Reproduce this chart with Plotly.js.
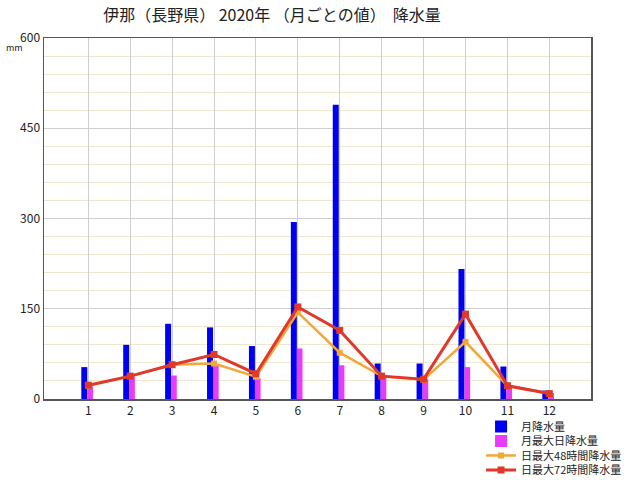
<!DOCTYPE html>
<html>
<head>
<meta charset="utf-8">
<script src="https://cdn.plot.ly/plotly-3.0.1.min.js"></script>
<style>html,body{margin:0;padding:0;background:#fff;}#chart{width:640px;height:484px;}</style>
</head>
<body>
<div id="chart"></div>
<script>
// Data
const months = [1, 2, 3, 4, 5, 6, 7, 8, 9, 10, 11, 12];
const monthLabels = ['1','2','3','4','5','6','7','8','9','10','11','12'];
const monthlyPrecip = [53, 90, 125, 119, 88, 294, 489, 59, 59, 216, 54, 14];   // 月降水量
const maxDailyPrecip = [21, 37, 39, 57, 34, 84, 56, 37, 33, 53, 20, 10];        // 月最大日降水量
const max48hPrecip = [22, 38, 57, 59, 37, 144, 77, 38, 32, 95, 22, 9];          // 日最大48時間降水量
const max72hPrecip = [23, 38, 57, 74, 42, 153, 114, 38, 33, 141, 22, 9];        // 日最大72時間降水量
const yTicks = [0, 150, 300, 450, 600];

const FONT = '"Noto Sans CJK JP", "Noto Sans", sans-serif';
const LEGEND_FONT = {family: FONT, size: 11, color: '#222'};

const traces = [
  {
    type: 'bar', name: '月降水量', x: months, y: monthlyPrecip,
    width: 0.143, offset: -0.167, legend: 'legend',
    marker: {color: '#0000f0', line: {width: 0}}
  },
  {
    type: 'bar', name: '月最大日降水量', x: months, y: maxDailyPrecip,
    width: 0.135, offset: -0.024, legend: 'legend2',
    marker: {color: '#e83cf6', line: {width: 0}}
  },
  {
    type: 'scatter', mode: 'lines+markers', name: '日最大48時間降水量',
    x: months, y: max48hPrecip, legend: 'legend3',
    line: {color: '#f0a838', width: 2.5},
    marker: {symbol: 'square', size: 6, color: '#f0a838'}
  },
  {
    type: 'scatter', mode: 'lines+markers', name: '日最大72時間降水量',
    x: months, y: max72hPrecip, legend: 'legend4',
    line: {color: '#e0392b', width: 3},
    marker: {symbol: 'square', size: 7, color: '#e0392b'}
  }
];

function legendAt(y) {
  return {
    x: 0.799, xanchor: 'left', y: y, yanchor: 'top',
    bgcolor: 'rgba(0,0,0,0)', borderwidth: 0,
    font: LEGEND_FONT
  };
}

const layout = {
  width: 640, height: 484,
  margin: {l: 44, r: 49, t: 38, b: 85, autoexpand: false},
  paper_bgcolor: '#ffffff',
  plot_bgcolor: '#ffffff',
  font: {family: FONT, size: 12, color: '#222'},
  title: {
    text: '伊那（長野県） 2020年 （月ごとの値）  降水量',
    font: {family: FONT, size: 16, color: '#222'},
    xref: 'container', x: 0.425, xanchor: 'center',
    yref: 'container', y: 0.969, yanchor: 'middle'
  },
  barmode: 'overlay',
  showlegend: true,
  legend: legendAt(-0.036),
  legend2: legendAt(-0.0762),
  legend3: legendAt(-0.1163),
  legend4: legendAt(-0.1565),
  xaxis: {
    range: [-0.057, 12.995],
    tickmode: 'array', tickvals: months, ticktext: monthLabels,
    showgrid: true, gridcolor: '#cfcfcf', gridwidth: 1,
    zeroline: false,
    showline: true, linecolor: '#555', linewidth: 1.5, mirror: true,
    ticks: '', tickfont: {family: FONT, size: 12, color: '#222'}
  },
  yaxis: {
    range: [0, 600],
    tickmode: 'array', tickvals: yTicks,
    showgrid: true, gridcolor: '#cfcfcf', gridwidth: 1,
    minor: {dtick: 30, showgrid: true, gridcolor: '#efe7cf', gridwidth: 1, ticks: ''},
    zeroline: false,
    showline: true, linecolor: '#555', linewidth: 1.5, mirror: true,
    ticks: '', tickfont: {family: FONT, size: 12, color: '#222'}
  },
  annotations: [
    {
      text: 'mm', xref: 'paper', yref: 'paper',
      x: -0.073, xanchor: 'left', y: 0.975, yanchor: 'middle',
      showarrow: false, font: {family: FONT, size: 9, color: '#222'}
    }
  ]
};

Plotly.newPlot('chart', traces, layout, {displayModeBar: false, staticPlot: true});
</script>
</body>
</html>
